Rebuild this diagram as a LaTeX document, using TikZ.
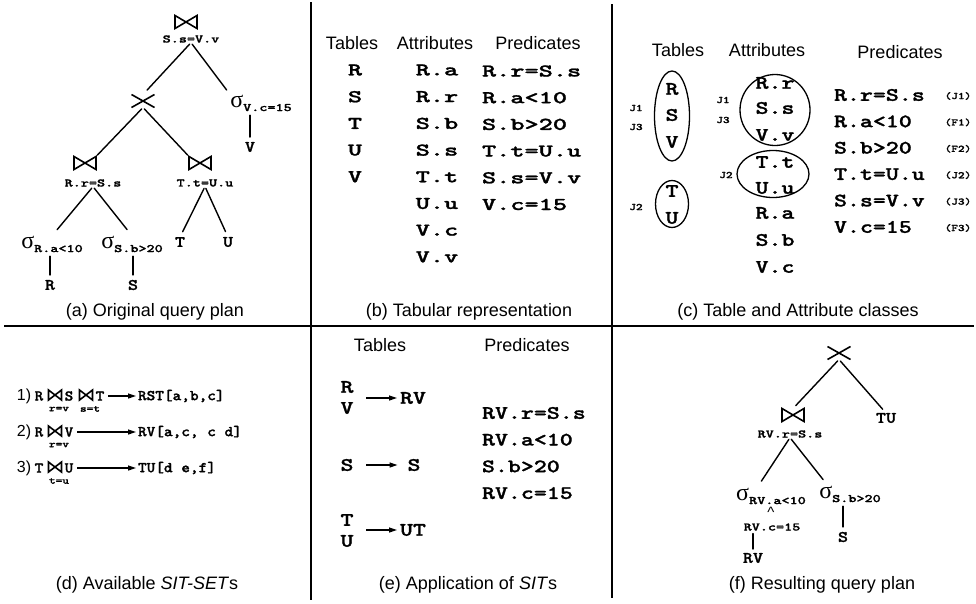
\documentclass[tikz,border=0pt]{standalone}
\usepackage{fontspec}
\setmainfont{Liberation Sans}
\newfontfamily\serifg{Liberation Serif}
\newfontfamily\cour{lmmonolt10-bold.otf}[FakeBold=1.2]
\usetikzlibrary{arrows.meta,shapes.geometric}
% mono text helpers (size, horizontal stretch)
\newcommand{\mB}[1]{{\fontsize{18}{20}\selectfont\cour\scalebox{1.5}[1]{#1}}}
\newcommand{\mC}[1]{{\fontsize{19}{20}\selectfont\cour\scalebox{1.3}[1]{#1}}}
\newcommand{\mL}[1]{{\fontsize{16}{18}\selectfont\cour\scalebox{1.2}[1]{#1}}}
\newcommand{\mS}[1]{{\fontsize{11.5}{12}\selectfont\cour\scalebox{1.34}[1]{#1}}}
\newcommand{\mD}[1]{{\fontsize{15}{16}\selectfont\cour\scalebox{1.1}[1]{#1}}}
\newcommand{\mT}[1]{{\fontsize{10}{11}\selectfont\cour\scalebox{1.27}[1]{#1}}}
\newcommand{\sig}[1]{{\fontsize{24}{24}\selectfont\serifg σ}\raisebox{-4pt}{\mS{#1}}}
\newcommand{\bwt}[1]{\draw[opline] (#1.south west) -- (#1.north west) -- (#1.south east) -- (#1.north east) -- cycle;}
\newcommand{\crs}[1]{\draw[opline] (#1.south west) -- (#1.north east) (#1.north west) -- (#1.south east);}
\begin{document}
\begin{tikzpicture}[x=1pt,y=-1pt,
  edge/.style={line width=1.4pt, line cap=round},
  opline/.style={line width=1.6pt, line join=miter},
  div/.style={line width=2pt},
  txt/.style={inner sep=0pt, outer sep=0pt},
  hd/.style={txt, font=\fontsize{18}{20}\selectfont},
  num/.style={txt, font=\fontsize{16}{18}\selectfont},
  jn/.style={txt, minimum width=22pt, minimum height=13pt},
  jns/.style={txt, minimum width=13pt, minimum height=10pt},
  cr/.style={txt, minimum width=23pt, minimum height=13pt},
  arr/.style={line width=1.2pt, -{Triangle[length=8pt,width=5pt]}},
  ell/.style={draw, ellipse, line width=1.3pt, inner sep=0pt}
]
\fill[white] (0,0) rectangle (976,603);
\useasboundingbox (0,0) rectangle (976,603);

% ---------- dividers
\draw[div] (311,2) -- (311,600);
\draw[div] (612,4) -- (612,598);
\draw[div] (4,326) -- (974,326);

% ---------- (a) original query plan
\node[jn] (a0) at (186,22) {}; \bwt{a0}
\node[txt] (a0l) at (191,39) {\mS{S.s=V.v}};
\node[cr] (ax) at (143,101) {}; \crs{ax}
\node[txt] (asv) at (261,103) {\sig{V.c=15}};
\node[txt] (aV) at (250,147) {\mL{V}};
\node[jn] (a1) at (85,163) {}; \bwt{a1}
\node[txt] (a1l) at (93,183) {\mS{R.r=S.s}};
\node[jn] (a2) at (200,163) {}; \bwt{a2}
\node[txt] (a2l) at (205,183) {\mS{T.t=U.u}};
\node[txt] (asa) at (52,244) {\sig{R.a<10}};
\node[txt] (asb) at (132,244) {\sig{S.b>20}};
\node[txt] (aT) at (180,242) {\mL{T}};
\node[txt] (aU) at (228,242) {\mL{U}};
\node[txt] (aR) at (50,285) {\mL{R}};
\node[txt] (aS) at (133,285) {\mL{S}};
\node[hd] (capa) at (155,312) {(a) Original query plan};
\draw[edge, shorten <=2pt, shorten >=6pt] (a0l.south) -- (ax.north);
\draw[edge, shorten <=2pt, shorten >=6pt] (a0l.south) -- (asv.north west);
\draw[edge, shorten <=2pt, shorten >=2pt] (ax.south) -- (a1.north east);
\draw[edge, shorten <=2pt, shorten >=2pt] (ax.south) -- (a2.north west);
\draw[edge, shorten <=2pt, shorten >=8pt] (a1l.south) -- (asa.north);
\draw[edge, shorten <=2pt, shorten >=8pt] (a1l.south) -- (asb.north);
\draw[edge, shorten <=2pt, shorten >=6pt] (a2l.south) -- (aT.north);
\draw[edge, shorten <=2pt, shorten >=6pt] (a2l.south) -- (aU.north);
\draw[edge, shorten <=5pt, shorten >=4pt] (aR.north) -- (aR.north |- asa.south);
\draw[edge, shorten <=5pt, shorten >=4pt] (aS.north) -- (aS.north |- asb.south);
\draw[edge, shorten <=5pt, shorten >=4pt] (aV.north) -- (aV.north |- asv.south);

% ---------- (b) tabular representation
\node[hd] (bht) at (352,43) {Tables};
\node[hd] (bha) at (435,43) {Attributes};
\node[hd] (bhp) at (538,43) {Predicates};
\foreach \t [count=\i from 0] in {R,S,T,U,V}
  \node[txt] (bt\i) at (355,70+26.7*\i) {\mB{\t}};
\foreach \t [count=\i from 0] in {R.a,R.r,S.b,S.s,T.t,U.u,V.c,V.v}
  \node[txt] (ba\i) at (437,70+26.7*\i) {\mB{\t}};
\foreach \t [count=\i from 0] in {R.r=S.s,R.a<10,S.b>20,T.t=U.u,S.s=V.v,V.c=15}
  \node[txt, anchor=west] (bp\i) at (482,71+26.7*\i) {\mB{\t}};
\node[hd] (capb) at (469,312) {(b) Tabular representation};

% ---------- (c) table and attribute classes
\node[hd] (cht) at (678,50) {Tables};
\node[hd] (cha) at (767,50) {Attributes};
\node[hd] (chp) at (900,52) {Predicates};
\node[ell, minimum width=35pt, minimum height=90pt] (ce1) at (672,116) {};
\node[txt] (cR) at (672,89) {\mC{R}};
\node[txt] (cS) at (672,115) {\mC{S}};
\node[txt] (cV) at (672,142) {\mC{V}};
\node[txt] (cj1) at (636,108) {\mT{J1}};
\node[txt] (cj3) at (636,127) {\mT{J3}};
\node[ell, minimum width=33pt, minimum height=47pt] (ce2) at (672,204) {};
\node[txt] (cT) at (672,191) {\mC{T}};
\node[txt] (cU) at (672,218) {\mC{U}};
\node[txt] (cj2) at (636,207) {\mT{J2}};
\node[ell, minimum width=70pt, minimum height=71pt] (ca1) at (775,110) {};
\node[txt] (cRr) at (775,83) {\mC{R.r}};
\node[txt] (cSs) at (775,108) {\mC{S.s}};
\node[txt] (cVv) at (775,135) {\mC{V.v}};
\node[txt] (caj1) at (723,100) {\mT{J1}};
\node[txt] (caj3) at (723,120) {\mT{J3}};
\node[ell, minimum width=72pt, minimum height=47pt] (ca2) at (773,174) {};
\node[txt] (cTt) at (775,162) {\mC{T.t}};
\node[txt] (cUu) at (775,188) {\mC{U.u}};
\node[txt] (caj2) at (726,175) {\mT{J2}};
\node[txt] (cRa) at (775,213) {\mC{R.a}};
\node[txt] (cSb) at (775,240) {\mC{S.b}};
\node[txt] (cVc) at (775,267) {\mC{V.c}};
\foreach \t/\l [count=\i from 0] in {R.r=S.s/(J1),R.a<10/(F1),S.b>20/(F2),T.t=U.u/(J2),S.s=V.v/(J3),V.c=15/(F3)}{
  \node[txt, anchor=west] (cp\i) at (834,95+26.4*\i) {\mC{\t}};
  \node[txt] (cl\i) at (958,96+26.4*\i) {\mT{\l}};
}
\node[hd] (capc) at (798,312) {(c) Table and Attribute classes};

% ---------- (d) available SIT-SETs
\node[num] (d1n) at (24,396) {1)};
\node[txt] (d1R) at (39,396) {\mD{R}};
\node[jns] (d1j) at (55,395) {}; \bwt{d1j}
\node[txt] (d1s) at (59,409) {\mT{r=v}};
\node[txt] (d1S) at (69,396) {\mD{S}};
\node[jns] (d1k) at (86,395) {}; \bwt{d1k}
\node[txt] (d1t) at (90,409) {\mT{s=t}};
\node[txt] (d1T) at (100,396) {\mD{T}};
\node[txt, anchor=west] (d1r) at (138,396) {\mD{RST[a,b,c]}};
\draw[arr, shorten <=4pt, shorten >=2pt] (d1T.east) -- (d1r.west);

\node[num] (d2n) at (24,432) {2)};
\node[txt] (d2R) at (39,432) {\mD{R}};
\node[jns] (d2j) at (55,431) {}; \bwt{d2j}
\node[txt] (d2s) at (59,445) {\mT{r=v}};
\node[txt] (d2V) at (69,432) {\mD{V}};
\node[txt, anchor=west] (d2r) at (138,432) {\mD{RV[a,c, c d]}};
\draw[arr, shorten <=4pt, shorten >=2pt] (d2V.east) -- (d2r.west);

\node[num] (d3n) at (24,468) {3)};
\node[txt] (d3T) at (39,468) {\mD{T}};
\node[jns] (d3j) at (55,467) {}; \bwt{d3j}
\node[txt] (d3s) at (59,481) {\mT{t=u}};
\node[txt] (d3U) at (69,468) {\mD{U}};
\node[txt, anchor=west] (d3r) at (138,468) {\mD{TU[d e,f]}};
\draw[arr, shorten <=4pt, shorten >=2pt] (d3U.east) -- (d3r.west);
\node[hd] (capd) at (147,585) {(d) Available \textit{SIT-SET}s};

% ---------- (e) application of SITs
\node[hd] (eht) at (380,345) {Tables};
\node[hd] (ehp) at (527,345) {Predicates};
\node[txt] (eR) at (347,387) {\mC{R}};
\node[txt] (eV) at (347,408) {\mC{V}};
\node[txt, anchor=west] (eRV) at (400,398) {\mC{RV}};
\draw[arr, shorten <=13pt, shorten >=3pt] (eR.east |- eRV.west) -- (eRV.west);
\node[txt] (eS) at (347,465) {\mC{S}};
\node[txt] (eS2) at (414,465) {\mC{S}};
\draw[arr, shorten <=13pt, shorten >=10pt] (eS.east) -- (eS2.west);
\node[txt] (eT) at (347,520) {\mC{T}};
\node[txt] (eU) at (347,541) {\mC{U}};
\node[txt, anchor=west] (eUT) at (400,530) {\mC{UT}};
\draw[arr, shorten <=13pt, shorten >=3pt] (eT.east |- eUT.west) -- (eUT.west);
\foreach \t [count=\i from 0] in {RV.r=S.s,RV.a<10,S.b>20,RV.c=15}
  \node[txt, anchor=west] (ep\i) at (482,413+26.7*\i) {\mC{\t}};
\node[hd] (cape) at (468,585) {(e) Application of \textit{SIT}s};

% ---------- (f) resulting query plan
\node[cr] (fx) at (839,353) {}; \crs{fx}
\node[jn] (fj) at (793,415) {}; \bwt{fj}
\node[txt] (fjl) at (790,434) {\mS{RV.r=S.s}};
\node[txt] (fTU) at (886,418) {\mL{TU}};
\node[txt] (fsa) at (771,496) {\sig{RV.a<10}};
\node[txt] (fsb) at (850,494) {\sig{S.b>20}};
\node[txt] (fca) at (771,512) {\fontsize{15}{15}\selectfont\textasciicircum};
\node[txt] (fcc) at (772,527) {\mS{RV.c=15}};
\node[txt] (fRV) at (753,558) {\mL{RV}};
\node[txt] (fS) at (843,537) {\mL{S}};
\draw[edge, shorten <=2pt, shorten >=4pt] (fx.south) -- (fj.north);
\draw[edge, shorten <=2pt, shorten >=5pt] (fx.south) -- (fTU.north);
\draw[edge, shorten <=2pt, shorten >=8pt] (fjl.south) -- ([xshift=-14pt]fsa.north);
\draw[edge, shorten <=2pt, shorten >=8pt] (fjl.south) -- ([xshift=-22pt]fsb.north);
\draw[edge, shorten <=4pt, shorten >=3pt] (fRV.north) -- (fRV.north |- fcc.south);
\draw[edge, shorten <=5pt, shorten >=4pt] (fS.north) -- (fS.north |- fsb.south);
\node[hd] (capf) at (822,585) {(f) Resulting query plan};
\end{tikzpicture}
\end{document}
